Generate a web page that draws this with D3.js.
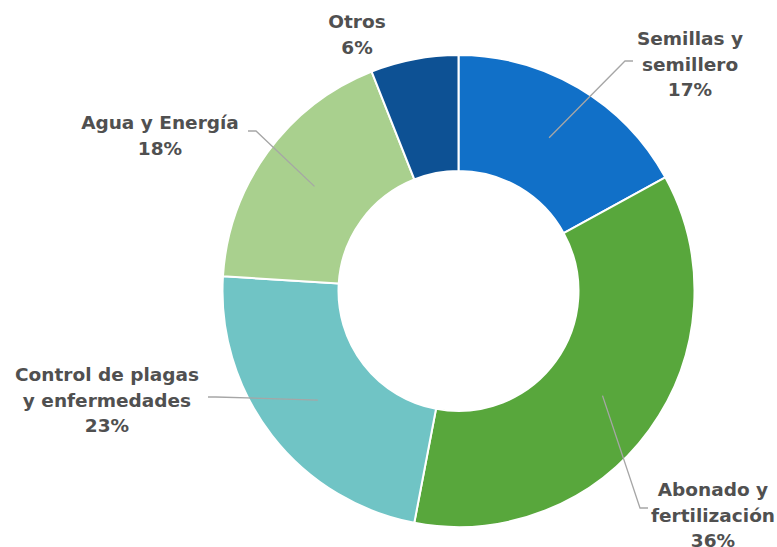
<!DOCTYPE html>
<html>
<head>
<meta charset="utf-8">
<script src="https://cdn.jsdelivr.net/npm/d3@7"></script>
<style>
  body { margin: 0; background: #fff; }
  text { font-family: "Century Gothic", "DejaVu Sans", sans-serif; font-weight: bold; fill: #505050; }
</style>
</head>
<body>
<div id="chart"></div>
<script>
// datos
const categorias = ["Semillas y semillero", "Abonado y fertilización", "Control de plagas y enfermedades", "Agua y Energía", "Otros"];
const lineasEtiqueta = [["Semillas y", "semillero"], ["Abonado y", "fertilización"], ["Control de plagas", "y enfermedades"], ["Agua y Energía"], ["Otros"]];
const valores = [17, 36, 23, 18, 6];
const colores = ["#1170C8", "#58A73C", "#70C4C5", "#A9D08E", "#0D5194"];

// posiciones de etiquetas (layout)
const posEtiqueta = [
    { x: 690, y: 45, lx: 633, ly: 61 },
    { x: 713, y: 496, lx: 648, ly: 508 },
    { x: 107, y: 381, lx: 208, ly: 397 },
    { x: 160, y: 129, lx: 248, ly: 131 },
    { x: 357, y: 28, lx: null, ly: null }
];

const width = 777, height = 547;
const cx = 458.5, cy = 291, rOuter = 236, rInner = 120;

const svg = d3.select("#chart").append("svg")
    .attr("width", width)
    .attr("height", height);

const g = svg.append("g").attr("transform", `translate(${cx},${cy})`);

const pie = d3.pie().sort(null).value(d => d)(valores);
const arc = d3.arc().innerRadius(rInner).outerRadius(rOuter);
const arcMid = d3.arc().innerRadius((rInner + rOuter) / 2).outerRadius((rInner + rOuter) / 2);

g.selectAll("path.slice")
    .data(pie)
    .enter()
    .append("path")
    .attr("class", "slice")
    .attr("d", arc)
    .attr("fill", (d, i) => colores[i])
    .attr("stroke", "#fff")
    .attr("stroke-width", 2);

// líneas guía
pie.forEach((d, i) => {
    const p = posEtiqueta[i];
    if (p.lx === null) return;
    const [mx, my] = arcMid.centroid(d);
    const sx = mx + cx, sy = my + cy;
    svg.append("polyline")
        .attr("points", `${sx},${sy} ${p.lx + (p.lx > sx ? -8 : 8)},${p.ly} ${p.lx},${p.ly}`)
        .attr("fill", "none")
        .attr("stroke", "#A6A6A6")
        .attr("stroke-width", 1.3);
});

// etiquetas
const lh = 25.5;
pie.forEach((d, i) => {
    const p = posEtiqueta[i];
    const t = svg.append("text")
        .attr("text-anchor", "middle")
        .attr("font-size", "18.5px");
    const lineas = lineasEtiqueta[i].concat([valores[i] + "%"]);
    lineas.forEach((l, j) => {
        t.append("tspan")
            .attr("x", p.x)
            .attr("y", p.y + j * lh)
            .text(l);
    });
});
</script>
</body>
</html>
